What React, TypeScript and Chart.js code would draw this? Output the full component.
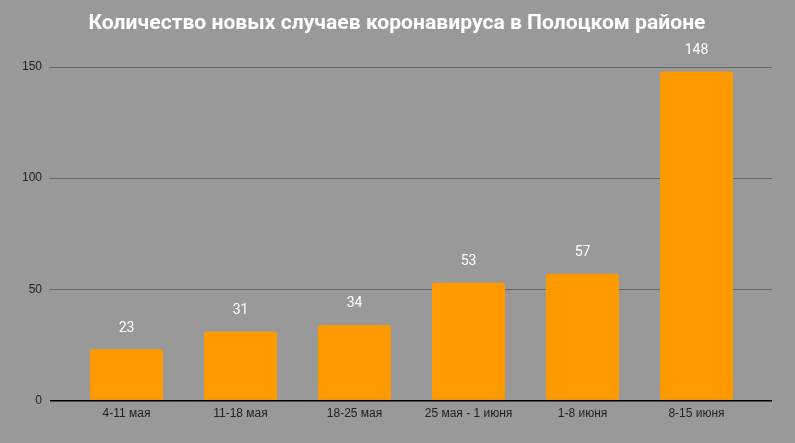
import React, { useEffect, useRef } from "react";
import { Chart, registerables } from "chart.js";

Chart.register(...registerables);

const TITLE = "Количество новых случаев коронавируса в Полоцком районе";
const CATEGORIES = ["4-11 мая", "11-18 мая", "18-25 мая", "25 мая - 1 июня", "1-8 июня", "8-15 июня"];
const VALUES = [23, 31, 34, 53, 57, 148];
const Y_TICKS = [0, 50, 100, 150];

const titlePlugin = {
  id: "customTitle",
  afterDraw(chart: any) {
    const ctx = chart.ctx;
    ctx.save();
    ctx.font = "bold 21px Roboto, sans-serif";
    ctx.fillStyle = "#ffffff";
    ctx.textBaseline = "middle";
    ctx.textAlign = "center";
    const w = ctx.measureText(TITLE).width;
    const target = 617;
    ctx.translate(397, 24);
    ctx.scale(target / w, 1);
    ctx.fillText(TITLE, 0, 0);
    ctx.restore();
  },
};

const labelPlugin = {
  id: "valueLabels",
  afterDatasetsDraw(chart: any) {
    const ctx = chart.ctx;
    const meta = chart.getDatasetMeta(0);
    ctx.save();
    ctx.font = "14px Roboto, sans-serif";
    ctx.fillStyle = "#ffffff";
    ctx.textAlign = "center";
    ctx.textBaseline = "middle";
    meta.data.forEach((bar: any, i: number) => {
      ctx.fillText(String(VALUES[i]), bar.x, bar.y - 21);
    });
    ctx.restore();
  },
};

const bgPlugin = {
  id: "bg",
  beforeDraw(chart: any) {
    const ctx = chart.ctx;
    ctx.save();
    ctx.fillStyle = "#999999";
    ctx.fillRect(0, 0, chart.width, chart.height);
    ctx.restore();
  },
};

export default function App() {
  const ref = useRef<HTMLCanvasElement>(null);
  useEffect(() => {
    if (!ref.current) return;
    const chart = new Chart(ref.current, {
      type: "bar",
      data: {
        datasets: [
          {
            data: VALUES.map((v, i) => ({ x: i, y: v })),
            backgroundColor: "#ff9900",
            borderRadius: { topLeft: 3, topRight: 3, bottomLeft: 0, bottomRight: 0 },
            borderSkipped: "bottom",
            barPercentage: 0.64,
            categoryPercentage: 1,
          },
        ],
      },
      options: {
        animation: false,
        responsive: false,
        maintainAspectRatio: false,
        layout: { padding: { top: 67, right: 23, bottom: 0, left: 0 } },
        plugins: { legend: { display: false }, tooltip: { enabled: false }, title: { display: false } },
        scales: {
          x: {
            type: "linear",
            min: -0.671,
            max: 5.662,
            offset: false,
            grid: { display: false, drawTicks: false },
            border: { display: false },
            afterBuildTicks(scale: any) {
              scale.ticks = CATEGORIES.map((_, i) => ({ value: i }));
            },
            afterFit(scale: any) {
              scale.height = 42.5;
            },
            ticks: {
              autoSkip: false,
              maxRotation: 0,
              padding: 6,
              color: "#222222",
              font: { family: "'Liberation Sans', Arial, sans-serif", size: 12 },
              callback: (v: any) => CATEGORIES[Math.round(Number(v))] ?? "",
            },
          },
          y: {
            min: 0,
            max: 150,
            afterBuildTicks(scale: any) {
              scale.ticks = Y_TICKS.map((v) => ({ value: v }));
            },
            afterFit(scale: any) {
              scale.width = 50;
            },
            border: { display: false },
            grid: {
              drawTicks: false,
              color: (c: any) => (c.tick && c.tick.value === 0 ? "#000000" : "#666666"),
              lineWidth: (c: any) => (c.tick && c.tick.value === 0 ? 1.5 : 1),
            },
            ticks: {
              padding: 8,
              color: "#222222",
              font: { family: "'Liberation Sans', Arial, sans-serif", size: 12 },
            },
          },
        },
      },
      plugins: [bgPlugin, titlePlugin, labelPlugin],
    } as any);
    return () => chart.destroy();
  }, []);
  return (
    <div style={{ position: "fixed", left: 0, top: 0, width: 795, height: 443, background: "#999999" }}>
      <canvas ref={ref} width={795} height={443} style={{ display: "block", width: 795, height: 443 }} />
    </div>
  );
}
